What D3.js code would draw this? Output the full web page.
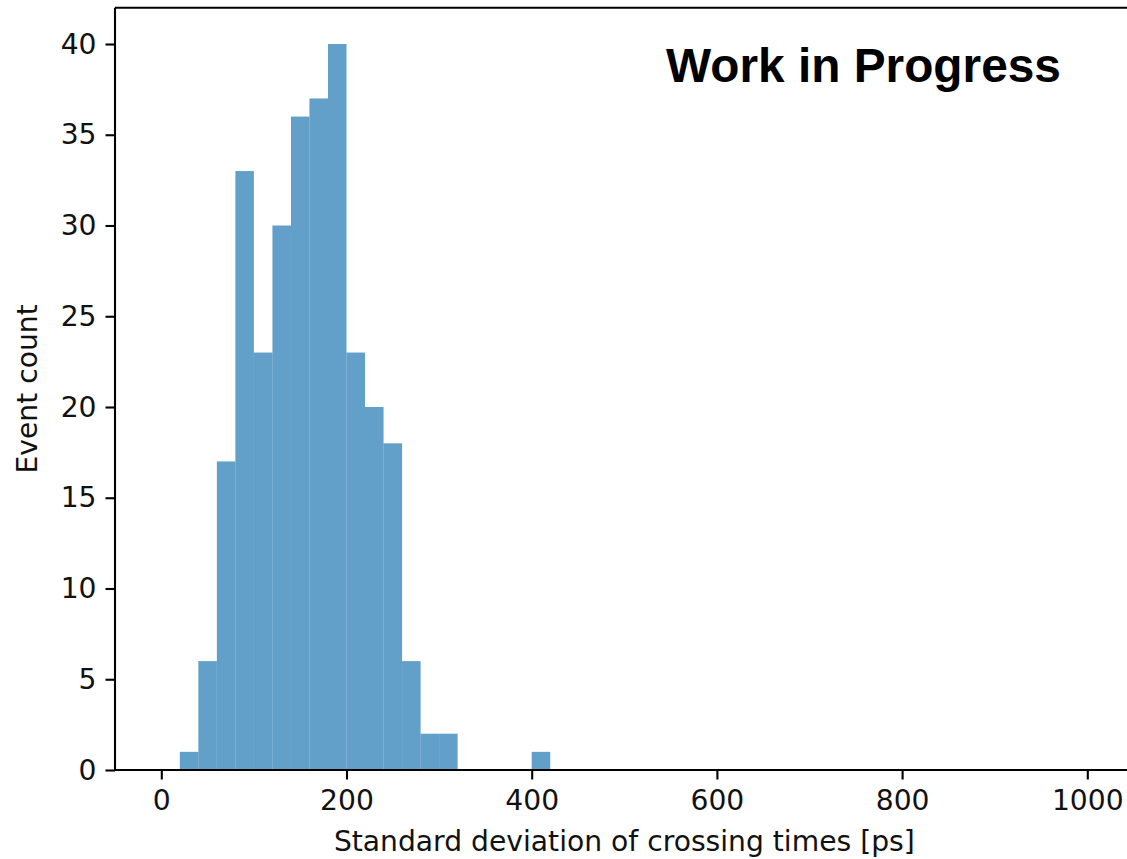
<!DOCTYPE html>
<html>
<head>
<meta charset="utf-8">
<script src="https://cdn.jsdelivr.net/npm/d3@7"></script>
<style>
  html, body { margin: 0; padding: 0; background: #fff; overflow: hidden; }
  svg { display: block; }
  .tick text { font-family: "DejaVu Sans", sans-serif; }
</style>
</head>
<body>
<svg id="chart" width="1127" height="859"></svg>
<script>
// Histogram of per-event standard deviation of crossing times (20 ps bins)
const binLower = [20, 40, 60, 80, 100, 120, 140, 160, 180, 200, 220, 240, 260, 280, 300, 400];
const binWidth = 20;
const counts   = [1, 6, 17, 33, 23, 30, 36, 37, 40, 23, 20, 18, 6, 2, 2, 1];

const xTicks = [0, 200, 400, 600, 800, 1000];
const yTicks = [0, 5, 10, 15, 20, 25, 30, 35, 40];

const xLabel = "Standard deviation of crossing times [ps]";
const yLabel = "Event count";
const stamp  = "Work in Progress";

const width = 1127, height = 859;
const plot = { left: 115, right: 1133.6, top: 7.7, bottom: 770 };

const svg = d3.select("#chart");

const x = d3.scaleLinear().domain([-50, 1050]).range([plot.left, plot.right]);
const y = d3.scaleLinear().domain([0, 42]).range([plot.bottom, plot.top]);

// bars
svg.append("g")
  .selectAll("rect")
  .data(binLower.map((lo, i) => ({ lo, hi: lo + binWidth, n: counts[i] })))
  .join("rect")
  .attr("x", d => x(d.lo))
  .attr("width", d => x(d.hi) - x(d.lo))
  .attr("y", d => y(d.n))
  .attr("height", d => y(0) - y(d.n))
  .attr("fill", "#1f77b4")
  .attr("fill-opacity", 0.7);

const fontSize = 28.2;

// x axis
const gx = svg.append("g")
  .attr("transform", `translate(0,${plot.bottom})`)
  .call(d3.axisBottom(x).tickValues(xTicks).tickSize(9.5).tickPadding(10).tickFormat(d3.format("d")));
gx.select(".domain").remove();
gx.selectAll(".tick line").attr("stroke", "#000").attr("stroke-width", 2.1);
gx.selectAll(".tick text").attr("font-size", fontSize).attr("fill", "#111");

// y axis
const gy = svg.append("g")
  .attr("transform", `translate(${plot.left},0)`)
  .call(d3.axisLeft(y).tickValues(yTicks).tickSize(9.5).tickPadding(9).tickFormat(d3.format("d")));
gy.select(".domain").remove();
gy.selectAll(".tick line").attr("stroke", "#000").attr("stroke-width", 2.1);
gy.selectAll(".tick text").attr("font-size", fontSize).attr("fill", "#111");

// spines
const spines = svg.append("g").attr("fill", "none").attr("stroke", "#000").attr("stroke-width", 2.1);
spines.append("line").attr("x1", plot.left).attr("x2", plot.right).attr("y1", plot.bottom).attr("y2", plot.bottom);
spines.append("line").attr("x1", plot.left).attr("x2", plot.right).attr("y1", plot.top).attr("y2", plot.top);
spines.append("line").attr("x1", plot.left).attr("x2", plot.left).attr("y1", plot.top).attr("y2", plot.bottom);
spines.append("line").attr("x1", plot.right).attr("x2", plot.right).attr("y1", plot.top).attr("y2", plot.bottom);

// axis titles
svg.append("text")
  .attr("x", (plot.left + plot.right) / 2)
  .attr("y", 851)
  .attr("text-anchor", "middle")
  .attr("font-family", "DejaVu Sans, sans-serif")
  .attr("font-size", fontSize)
  .attr("fill", "#111")
  .text(xLabel);

svg.append("text")
  .attr("transform", `translate(37,${(plot.top + plot.bottom) / 2}) rotate(-90)`)
  .attr("text-anchor", "middle")
  .attr("font-family", "DejaVu Sans, sans-serif")
  .attr("font-size", fontSize)
  .attr("fill", "#111")
  .text(yLabel);

// status stamp
svg.append("text")
  .attr("x", 666)
  .attr("y", 82)
  .attr("font-family", "Liberation Sans, Arial, sans-serif")
  .attr("font-weight", "bold")
  .attr("font-size", 47.8)
  .attr("fill", "#000")
  .text(stamp);
</script>
</body>
</html>
